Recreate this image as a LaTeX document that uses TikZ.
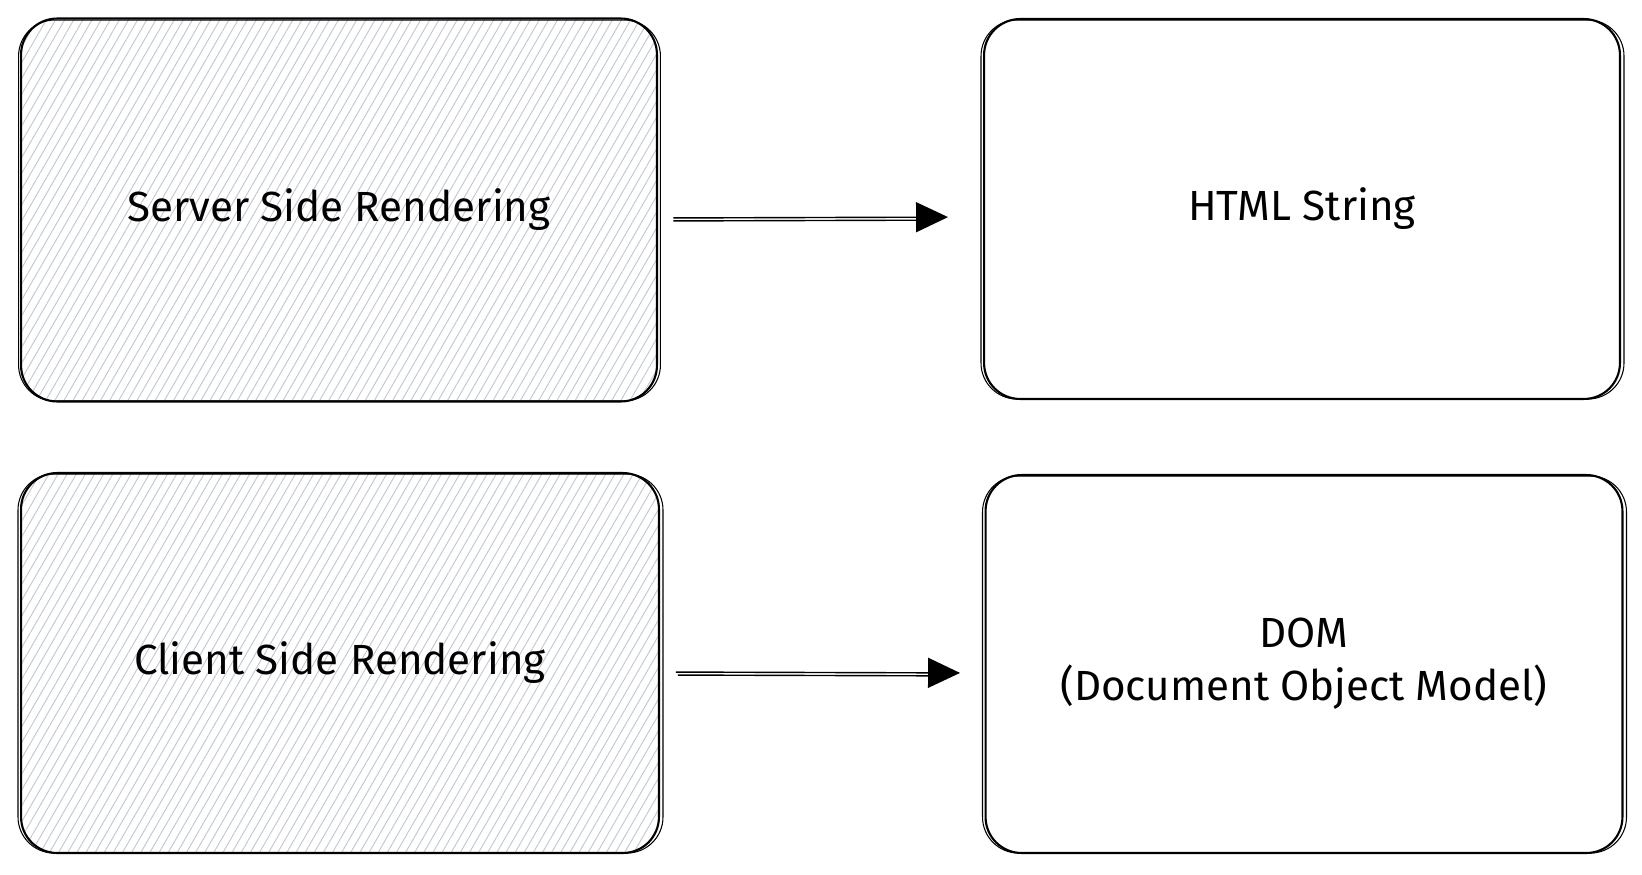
\documentclass[tikz,border=0pt]{standalone}
\usepackage{fontspec}
\setmainfont{Fira Sans}
\usetikzlibrary{arrows.meta,patterns.meta}

\definecolor{hatchgray}{HTML}{C3C9D1}

\tikzset{
  sketchbox/.style={draw, line width=1.2pt, rounded corners=0.72cm,
    inner sep=0pt, align=center, font=\fontsize{24}{30}\selectfont},
  hatched/.style={pattern={Lines[angle=60,distance=4.5pt,line width=0.55pt]},
    pattern color=hatchgray},
  retrace/.style={draw, line width=0.6pt, rounded corners=0.72cm},
  flowline/.style={line width=0.8pt},
}

\begin{document}
\begin{tikzpicture}[x=0.02cm, y=-0.02cm, >={Triangle[length=0.64cm,width=0.6cm]}]
        \useasboundingbox (0,0) rectangle (1642,875);

        % 1) Boxes for the two rendering modes (hatched)
        \node[sketchbox, hatched, minimum width=12.72cm, minimum height=7.66cm]
          (ssr) at (339,210) {Server Side Rendering};
        \node[sketchbox, hatched, minimum width=12.76cm, minimum height=7.6cm]
          (csr) at (340,663) {Client Side Rendering};

        % 2) Boxes for what each mode produces
        \node[sketchbox, minimum width=12.72cm, minimum height=7.6cm]
          (html) at (1302,209) {HTML String};
        \node[sketchbox, minimum width=12.74cm, minimum height=7.56cm]
          (dom) at (1304,664) {DOM\\(Document Object Model)};

        % second pencil stroke round every box
        \foreach \n in {ssr,csr,html,dom}
          \draw[retrace] ([shift={(-2,2)}]\n.north west) rectangle ([shift={(3,-1)}]\n.south east);

        % 3) Arrows from each mode to its result
        \draw[flowline,->, shorten <=0.32cm, shorten >=0.70cm]
          ([yshift=-0.16cm]ssr.east) -- ([yshift=-0.16cm]html.west);
        \draw[flowline, shorten <=0.32cm, shorten >=1.02cm]
          ([yshift=-0.22cm]ssr.east) -- ([yshift=-0.22cm]html.west);

        \draw[flowline,->, shorten <=0.32cm, shorten >=0.49cm]
          ([yshift=-0.18cm]csr.east) -- ([yshift=-0.18cm]dom.west);
        \draw[flowline, shorten <=0.36cm, shorten >=0.87cm]
          ([yshift=-0.24cm]csr.east) -- ([yshift=-0.24cm]dom.west);

    \end{tikzpicture}
\end{document}
